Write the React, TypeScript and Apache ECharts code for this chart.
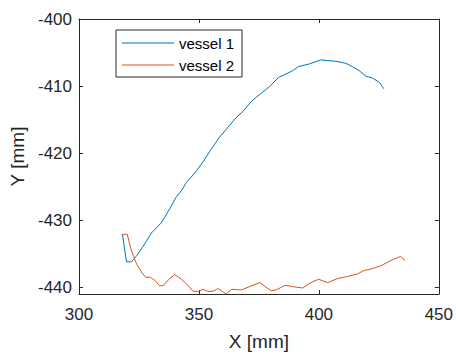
import React, { useEffect, useRef } from "react";
import * as echarts from "echarts";

const vessel1X = [318.1, 319.8, 321.9, 324.0, 326.7, 330.2, 334.3, 337.8, 340.6, 342.7, 344.7, 348.2, 351.7, 354.4, 358.6, 362.7, 365.5, 368.3, 371.8, 375.2, 379.4, 383.2, 386.3, 389.1, 391.5, 396.0, 400.8, 403.6, 407.1, 411.2, 414.0, 416.8, 419.5, 422.3, 425.1, 427.1];
const vessel1Y = [-432.1, -436.2, -436.2, -435.3, -433.9, -431.9, -430.4, -428.3, -426.5, -425.6, -424.4, -423.0, -421.3, -419.8, -417.6, -415.9, -414.7, -413.8, -412.3, -411.3, -410.1, -408.7, -408.2, -407.7, -407.1, -406.7, -406.1, -406.2, -406.3, -406.6, -407.1, -407.7, -408.5, -408.8, -409.4, -410.4];

const vessel2X = [318.1, 320.1, 321.9, 324.0, 326.0, 327.7, 329.8, 331.7, 333.7, 335.3, 337.5, 339.9, 342.7, 345.4, 347.5, 350.0, 351.7, 353.7, 355.8, 357.9, 359.7, 361.4, 363.7, 367.6, 371.8, 375.5, 378.0, 380.1, 382.1, 386.0, 389.1, 393.2, 396.7, 399.9, 403.6, 407.8, 411.9, 416.1, 418.8, 421.6, 425.8, 430.6, 434.1, 435.9];
const vessel2Y = [-432.1, -432.1, -434.6, -436.5, -437.7, -438.5, -438.5, -439.0, -439.8, -439.7, -438.8, -438.1, -438.8, -439.7, -440.6, -440.6, -440.3, -440.6, -440.6, -440.2, -440.6, -441.0, -440.3, -440.4, -439.8, -439.3, -440.0, -440.5, -440.4, -439.7, -439.9, -440.1, -439.3, -438.8, -439.3, -438.7, -438.4, -438.0, -437.5, -437.3, -436.8, -435.9, -435.4, -436.0];

const seriesNames = ["vessel 1", "vessel 2"];
const xTicks = [300, 350, 400, 450];
const yTicks = [-440, -430, -420, -410, -400];

const TEXT = "#262626";
const FONT = "'Liberation Sans', Arial, sans-serif";

export default function App() {
  const ref = useRef<HTMLDivElement>(null);
  useEffect(() => {
    document.body.style.margin = "0";
    const chart = echarts.init(ref.current!, undefined, { renderer: "svg" });
    const zip = (xs: number[], ys: number[]) => xs.map((x, i) => [x, ys[i]]);
    const axisCommon = {
      axisLine: { show: true, lineStyle: { color: TEXT, width: 1 } },
      axisTick: { show: true, inside: true, length: 4, lineStyle: { color: TEXT } },
      splitLine: { show: false },
    };
    chart.setOption({
      animation: false,
      backgroundColor: "#ffffff",
      grid: { left: 79, right: 16, top: 19, bottom: 55, containLabel: false },
      legend: {
        data: seriesNames.map((n) => ({ name: n, icon: "rect" })),
        orient: "vertical",
        left: 116,
        top: 30,
        itemWidth: 52,
        itemHeight: 1.2,
        itemGap: 6,
        padding: [5, 8, 4, 6],
        borderColor: TEXT,
        borderWidth: 1,
        backgroundColor: "#ffffff",
        textStyle: { color: "#000", fontSize: 15, fontFamily: FONT, lineHeight: 16 },
      },
      xAxis: [
        {
          type: "value",
          min: 300,
          max: 450,
          interval: 50,
          name: "X [mm]",
          nameLocation: "middle",
          nameGap: 38,
          nameTextStyle: { color: TEXT, fontSize: 19, fontFamily: FONT },
          axisLabel: { color: TEXT, fontSize: 17, fontFamily: FONT, margin: 12 },
          ...axisCommon,
        },
        {
          type: "value",
          position: "top",
          min: 300,
          max: 450,
          interval: 50,
          axisLabel: { show: false },
          ...axisCommon,
        },
      ],
      yAxis: [
        {
          type: "value",
          min: -441,
          max: -400,
          name: "Y [mm]",
          nameLocation: "middle",
          nameGap: 46,
          nameTextStyle: { color: TEXT, fontSize: 19, fontFamily: FONT },
          axisLabel: {
            color: TEXT,
            fontSize: 17,
            fontFamily: FONT,
            margin: 7,
            customValues: yTicks,
          },
          axisTick: { show: true, inside: true, length: 4, lineStyle: { color: TEXT }, customValues: yTicks },
          axisLine: { show: true, lineStyle: { color: TEXT, width: 1 } },
          splitLine: { show: false },
        },
        {
          type: "value",
          position: "right",
          min: -441,
          max: -400,
          axisLabel: { show: false, customValues: yTicks },
          axisTick: { show: true, inside: true, length: 4, lineStyle: { color: TEXT }, customValues: yTicks },
          axisLine: { show: true, lineStyle: { color: TEXT, width: 1 } },
          splitLine: { show: false },
        },
      ],
      series: [
        {
          name: seriesNames[0],
          type: "line",
          data: zip(vessel1X, vessel1Y),
          symbol: "none",
          lineStyle: { color: "#0072BD", width: 1 },
          itemStyle: { color: "#0072BD" },
        },
        {
          name: seriesNames[1],
          type: "line",
          data: zip(vessel2X, vessel2Y),
          symbol: "none",
          lineStyle: { color: "#D95319", width: 1 },
          itemStyle: { color: "#D95319" },
        },
      ],
    });
    return () => chart.dispose();
  }, []);
  return <div ref={ref} style={{ width: 456, height: 356 }} />;
}
